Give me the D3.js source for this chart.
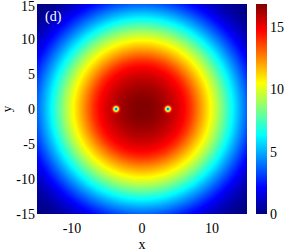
<!DOCTYPE html>
<html>
<head>
<meta charset="utf-8">
<script src="https://cdn.jsdelivr.net/npm/d3@7"></script>
<style>
  html, body { margin: 0; padding: 0; background: #fff; }
  svg { display: block; }
</style>
</head>
<body>
<svg id="chart" width="286" height="251"></svg>
<script>
// Radial density profile (radius -> value)
const radii   = [0, 1, 2, 3, 4, 5, 6, 7, 8, 9, 10, 11, 12, 13, 14, 15, 16, 17, 18, 19, 20, 21, 22];
const density = [16.85, 16.8, 16.6, 16.3, 15.9, 15.4, 14.8, 13.9, 12.7, 11.5, 10.3, 9.0, 7.6, 6.2, 4.9, 3.7, 2.6, 1.7, 1.0, 0.5, 0.2, 0, 0];

// Two vortex cores on the x axis
const vortexX = [-3.7, 3.7];
const vortexY = [0, 0];
// core depletion: distance from core -> remaining fraction
const coreDist = [0, 0.15, 0.3, 0.45, 0.6, 0.8];
const coreFrac = [0.15, 0.35, 0.6, 0.82, 0.95, 1];

const xTicks = [-10, 0, 10];
const yTicks = [-15, -10, -5, 0, 5, 10, 15];
const cTicks = [0, 5, 10, 15];
const zMax = 16.85;

const svg = d3.select('#chart');
const font = '"Liberation Serif", "DejaVu Serif", serif';

const plot = { left: 37, right: 247, top: 4, bottom: 214 };
const x = d3.scaleLinear().domain([-15, 15]).range([plot.left, plot.right]);
const y = d3.scaleLinear().domain([-15, 15]).range([plot.bottom, plot.top]);

const radial = d3.scaleLinear().domain(radii).range(density).clamp(true);
const core = d3.scaleLinear().domain(coreDist).range(coreFrac).clamp(true);

// jet colormap
const jet = d3.scaleLinear()
    .domain([0, 1/8, 3/8, 5/8, 7/8, 1].map(function(t) { return t * zMax; }))
    .range(['#000080', '#0000ff', '#00ffff', '#ffff00', '#ff0000', '#800000'])
    .clamp(true);

function field(px, py) {
    let v = radial(Math.hypot(px, py));
    vortexX.forEach(function(vx, i) {
        v *= core(Math.hypot(px - vx, py - vortexY[i]));
    });
    return v;
}

// Heatmap, rendered into an offscreen canvas then embedded as an image
const W = plot.right - plot.left, H = plot.bottom - plot.top;
const cnv = document.createElement('canvas');
cnv.width = W; cnv.height = H;
const ctx = cnv.getContext('2d');
const img = ctx.createImageData(W, H);
for (let j = 0; j < H; j++) {
    for (let i = 0; i < W; i++) {
        const c = d3.rgb(jet(field(x.invert(plot.left + i + 0.5), y.invert(plot.top + j + 0.5))));
        const k = (j * W + i) * 4;
        img.data[k] = c.r; img.data[k + 1] = c.g; img.data[k + 2] = c.b; img.data[k + 3] = 255;
    }
}
ctx.putImageData(img, 0, 0);
svg.append('image')
    .attr('x', plot.left).attr('y', plot.top)
    .attr('width', W).attr('height', H)
    .attr('href', cnv.toDataURL());

// Panel label
svg.append('text')
    .attr('x', 45).attr('y', 21)
    .attr('font-family', font).attr('font-size', 14)
    .attr('fill', '#fff')
    .text('(d)');

// Axes tick labels
svg.append('g').selectAll('text').data(xTicks).join('text')
    .attr('x', function(d) { return x(d); })
    .attr('y', 233)
    .attr('text-anchor', 'middle')
    .attr('font-family', font).attr('font-size', 14)
    .text(function(d) { return d; });

svg.append('g').selectAll('text').data(yTicks).join('text')
    .attr('x', 35)
    .attr('y', function(d) { return Math.max(y(d) + 5, 11); })
    .attr('text-anchor', 'end')
    .attr('font-family', font).attr('font-size', 14)
    .text(function(d) { return d; });

svg.append('text')
    .attr('x', x(0)).attr('y', 249)
    .attr('text-anchor', 'middle')
    .attr('font-family', font).attr('font-size', 14)
    .text('x');

svg.append('text')
    .attr('transform', 'translate(11,' + y(0) + ') rotate(-90)')
    .attr('text-anchor', 'middle')
    .attr('font-family', font).attr('font-size', 13)
    .text('y');

// Colorbar
const cb = { left: 256, width: 11 };
const cy = d3.scaleLinear().domain([0, zMax]).range([plot.bottom, plot.top]);
const grad = svg.append('defs').append('linearGradient')
    .attr('id', 'jetGrad')
    .attr('x1', 0).attr('y1', 1).attr('x2', 0).attr('y2', 0);
grad.selectAll('stop').data(jet.domain()).join('stop')
    .attr('offset', function(d) { return d / zMax; })
    .attr('stop-color', function(d) { return jet(d); });
svg.append('rect')
    .attr('x', cb.left).attr('y', plot.top)
    .attr('width', cb.width).attr('height', H)
    .attr('fill', 'url(#jetGrad)');

svg.append('g').selectAll('text').data(cTicks).join('text')
    .attr('x', cb.left + cb.width + 3)
    .attr('y', function(d) { return cy(d) + 5; })
    .attr('font-family', font).attr('font-size', 14)
    .text(function(d) { return d; });
</script>
</body>
</html>
